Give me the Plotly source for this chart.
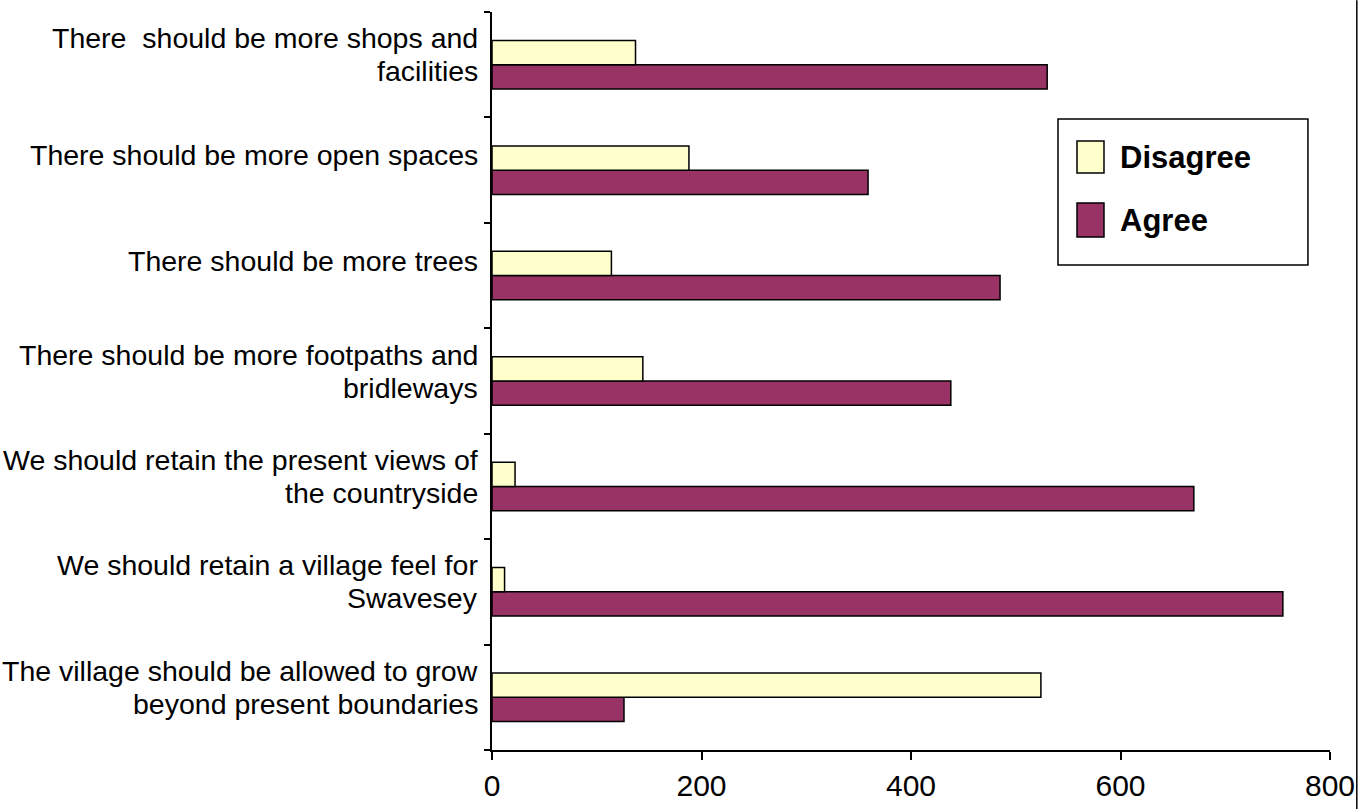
import plotly.graph_objects as go

categories = [
    "The village should be allowed to grow<br>beyond present boundaries",
    "We should retain a village feel for<br>Swavesey",
    "We should retain the present views of<br>the countryside",
    "There should be more footpaths and<br>bridleways",
    "There should be more trees",
    "There should be more open spaces",
    "There  should be more shops and<br>facilities",
]
disagree = [524, 12, 22, 144, 114, 188, 137]
agree = [126, 755, 670, 438, 485, 359, 530]
x_ticks = [0, 200, 400, 600, 800]

series = [("Disagree", disagree, "#FFFFCC"), ("Agree", agree, "#993366")]

FONT = "Liberation Sans, Arial, sans-serif"

fig = go.Figure()
# horizontal grouped bars: later traces are drawn above earlier ones
for name, vals, col in reversed(series):
    fig.add_trace(go.Bar(
        y=categories, x=vals, name=name, orientation="h",
        marker=dict(color=col, line=dict(color="black", width=1.5)),
        showlegend=False,
    ))

fig.update_layout(
    width=1371, height=809,
    barmode="group", bargap=0.54, bargroupgap=0,
    plot_bgcolor="white", paper_bgcolor="white",
    margin=dict(l=492, r=41, t=12, b=59, autoexpand=False),
    font=dict(family=FONT, size=28.5, color="black"),
    showlegend=False,
    xaxis=dict(
        range=[0, 800], tickvals=x_ticks, ticktext=[str(v) for v in x_ticks],
        showgrid=False, zeroline=False, showline=True, linecolor="black", linewidth=2,
        ticks="outside", ticklen=8, tickwidth=1.5, tickcolor="black",
        tickfont=dict(family=FONT, size=30), automargin=False,
    ),
    yaxis=dict(
        categoryorder="array", categoryarray=categories,
        showgrid=False, zeroline=False, showline=True, linecolor="black", linewidth=1.5,
        ticks="outside", tickson="boundaries", ticklen=6, tickwidth=1.5, tickcolor="black",
        showticklabels=False, automargin=False,
    ),
)

# category labels (one annotation per text line, tighter line spacing as in the original)
LINE_H = 33
for cat in categories:
    lines = cat.split("<br>")
    n = len(lines)
    lift = 15 if n == 1 else 10
    for i, line in enumerate(lines):
        off = (i - (n - 1) / 2) * LINE_H
        fig.add_annotation(xref="paper", yref="y", x=0, y=cat,
                           xanchor="right", yanchor="middle", xshift=-12,
                           yshift=lift - off, showarrow=False, text=line,
                           font=dict(family=FONT, size=28.5, color="black"))

# custom legend (box, swatches, labels)
fig.add_shape(type="rect", xref="paper", yref="paper",
              x0=0.6754, x1=0.9737, y0=0.6572, y1=0.855,
              line=dict(color="black", width=1.5), fillcolor="white", layer="above")
swatch_y = [(0.7818, 0.8252), (0.6951, 0.7412)]
for (name, vals, col), (sy0, sy1) in zip(series, swatch_y):
    fig.add_shape(type="rect", xref="paper", yref="paper",
                  x0=0.6981, x1=0.7303, y0=sy0, y1=sy1,
                  line=dict(color="black", width=1.5), fillcolor=col, layer="above")
    fig.add_annotation(xref="paper", yref="paper", x=0.747, y=(sy0 + sy1) / 2,
                       xanchor="left", yanchor="middle", showarrow=False,
                       text="<b>%s</b>" % name,
                       font=dict(family=FONT, size=31, color="black"))

# right-hand frame line
fig.add_shape(type="line", xref="paper", yref="paper",
              x0=1.032, x1=1.032, y0=-0.08, y1=1.016,
              line=dict(color="black", width=1.5), layer="above")

fig.write_html(
    "out.html",
    config={"displayModeBar": False},
    post_script="document.body.style.margin='0';document.body.style.overflow='hidden';",
)
